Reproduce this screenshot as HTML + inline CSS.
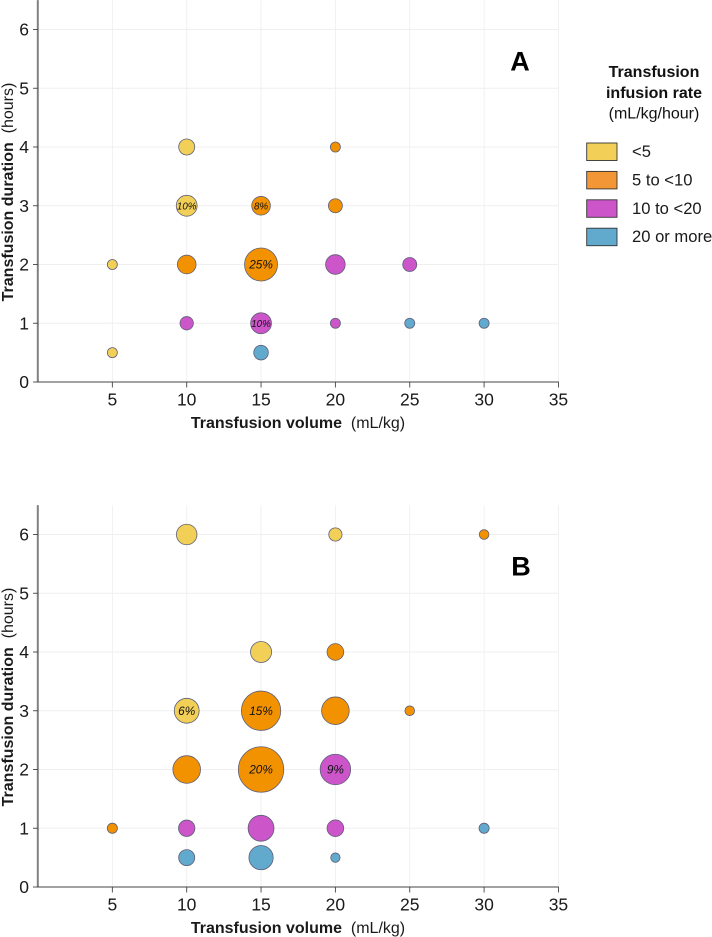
<!DOCTYPE html>
<html>
<head>
<meta charset="utf-8">
<style>
html,body{margin:0;padding:0;background:#fff;}
svg{display:block;font-family:"Liberation Sans",sans-serif;}
</style>
</head>
<body>
<svg id="fig" xmlns="http://www.w3.org/2000/svg" width="712" height="937" viewBox="0 0 712 937"></svg>
<script>
var xTicks = [5, 10, 15, 20, 25, 30, 35];
var yTicks = [0, 1, 2, 3, 4, 5, 6];
var rateLabels = ['<5', '5 to <10', '10 to <20', '20 or more'];

var volumeA = [10, 20, 10, 15, 20, 5, 10, 15, 20, 25, 10, 15, 20, 25, 30, 5, 15];
var durationA = [4, 4, 3, 3, 3, 2, 2, 2, 2, 2, 1, 1, 1, 1, 1, 0.5, 0.5];
var rateA = [0, 1, 0, 1, 1, 0, 1, 1, 2, 2, 2, 2, 2, 3, 3, 0, 3];
var shareA = [5.9, 2.3, 10, 8, 4.5, 2.3, 8, 25, 8.8, 4.5, 4.1, 10, 2.3, 2.3, 2.3, 2.3, 4.9];
var shownA = [0, 0, 1, 1, 0, 0, 0, 1, 0, 0, 0, 1, 0, 0, 0, 0, 0];

var volumeB = [10, 20, 30, 15, 20, 10, 15, 20, 25, 10, 15, 20, 5, 10, 15, 20, 30, 10, 15, 20];
var durationB = [6, 6, 6, 4, 4, 3, 3, 3, 3, 2, 2, 2, 1, 1, 1, 1, 1, 0.5, 0.5, 0.5];
var rateB = [0, 0, 1, 0, 1, 0, 1, 1, 1, 1, 1, 2, 1, 2, 2, 2, 3, 3, 3, 3];
var shareB = [4.1, 1.7, 0.9, 4.3, 2.7, 6, 15, 7.4, 0.9, 7.4, 20, 9, 1, 2.6, 6.5, 2.7, 1, 2.5, 5.7, 0.85];
var shownB = [0, 0, 0, 0, 0, 1, 1, 0, 0, 0, 1, 1, 0, 0, 0, 0, 0, 0, 0, 0];

var NS = 'http://www.w3.org/2000/svg';
var fig = document.getElementById('fig');
var fills = ['#F2D057', '#F39200', '#CB55C9', '#62A9CE'];
var legendFills = ['#F2D057', '#F39636', '#CB55C9', '#62A9CE'];

function make(tag, attrs, text, parent) {
  var el = document.createElementNS(NS, tag);
  for (var k in attrs) el.setAttribute(k, attrs[k]);
  if (text !== undefined && text !== null) el.textContent = text;
  (parent || fig).appendChild(el);
  return el;
}

function drawPanel(p) {
  var g = make('g', {});
  
  
  var x = function (v) { return 38 + v * 14.87; };
  var y = function (v) { return p.y0 - v * 58.75; };
  var top = y(6.5);

  xTicks.forEach(function (t) {
    var l = make('line', {x1: x(t), x2: x(t), y1: top, y2: p.y0, stroke: '#efefef', 'stroke-width': 0.9}, null, g);
    
    
  });
  yTicks.forEach(function (t) {
    if (t === 0) return;
    var l = make('line', {x1: 38, x2: x(35), y1: y(t), y2: y(t), stroke: '#efefef', 'stroke-width': 0.9}, null, g);
    
    
  });

  var ya = make('line', {x1: 37.8, x2: 37.8, y1: top, y2: p.y0, stroke: '#808080', 'stroke-width': 2}, null, g);
  
  
  var xa = make('line', {x1: 37, x2: x(35) + 0.4, y1: p.y0, y2: p.y0, stroke: '#444', 'stroke-width': 1}, null, g);
  
  

  xTicks.forEach(function (t) {
    var m = make('line', {x1: x(t), x2: x(t), y1: p.y0, y2: p.y0 + 5.5, stroke: '#444', 'stroke-width': 0.9}, null, g);
    
    
    var lab = make('text', {x: x(t), y: p.y0 + 23.5, 'text-anchor': 'middle', 'font-size': 17.5, fill: '#1a1a1a'}, t, g);
    
    
  });
  yTicks.forEach(function (t) {
    var m = make('line', {x1: 33, x2: 38, y1: y(t), y2: y(t), stroke: '#444', 'stroke-width': 0.9}, null, g);
    
    
    var lab = make('text', {x: 29, y: y(t) + 6, 'text-anchor': 'end', 'font-size': 17.5, fill: '#1a1a1a'}, t, g);
    
    
  });

  var xt = make('text', {x: 298, y: p.y0 + 46, 'text-anchor': 'middle', 'font-size': 16, fill: '#1a1a1a'}, null, g);
  
  
  make('tspan', {'font-weight': 'bold'}, 'Transfusion volume', xt);
  make('tspan', {}, '\u00a0\u00a0(mL/kg)', xt);

  var ycy = p.y0 - 190;
  var yt = make('text', {x: 13, y: ycy, 'text-anchor': 'middle', 'font-size': 16, fill: '#1a1a1a', transform: 'rotate(-90 13 ' + ycy + ')'}, null, g);
  
  
  make('tspan', {'font-weight': 'bold'}, 'Transfusion duration', yt);
  make('tspan', {}, '\u00a0\u00a0(hours)', yt);

  p.volume.forEach(function (v, i) {
    var r = p.k * Math.sqrt(p.share[i]);
    var c = make('circle', {cx: x(v), cy: y(p.duration[i]), r: r, fill: fills[p.rate[i]], stroke: '#5f6078', 'stroke-width': 0.8}, null, g);
    
    
    if (p.shown[i]) {
      var fs = (p.letter === 'A' && p.share[i] < 25) ? 9.8 : 11.8;
      var t = make('text', {x: x(v), y: y(p.duration[i]) + fs * 0.36, 'text-anchor': 'middle', 'font-size': fs, 'font-style': 'italic', fill: '#111'}, p.share[i] + '%', g);
      
      
    }
  });

  var letter = make('text', {x: p.lx, y: p.y0 - 311.5, 'text-anchor': 'middle', 'font-size': 27, 'font-weight': 'bold', fill: '#000'}, p.letter, g);
  
  
}

drawPanel({letter: 'A', y0: 382, k: 3.3, lx: 520, volume: volumeA, duration: durationA, rate: rateA, share: shareA, shown: shownA});
drawPanel({letter: 'B', y0: 887, k: 5.08, lx: 521, volume: volumeB, duration: durationB, rate: rateB, share: shareB, shown: shownB});

var lg = make('g', {});


var t1 = make('text', {x: 654, y: 77, 'text-anchor': 'middle', 'font-size': 16, 'font-weight': 'bold', fill: '#111'}, 'Transfusion', lg);


var t2 = make('text', {x: 654, y: 98, 'text-anchor': 'middle', 'font-size': 16, 'font-weight': 'bold', fill: '#111'}, 'infusion rate', lg);


var t3 = make('text', {x: 654, y: 118.5, 'text-anchor': 'middle', 'font-size': 16, fill: '#111'}, '(mL/kg/hour)', lg);


rateLabels.forEach(function (label, i) {
  var top = 143 + i * 28.4;
  var s = make('rect', {x: 586.7, y: top, width: 30.3, height: 17.5, fill: legendFills[i], stroke: '#333', 'stroke-width': 0.9}, null, lg);
  
  
  var t = make('text', {x: 632, y: top + 14, 'font-size': 16.6, fill: '#1a1a1a'}, label, lg);
  
  
});
</script>
</body>
</html>
